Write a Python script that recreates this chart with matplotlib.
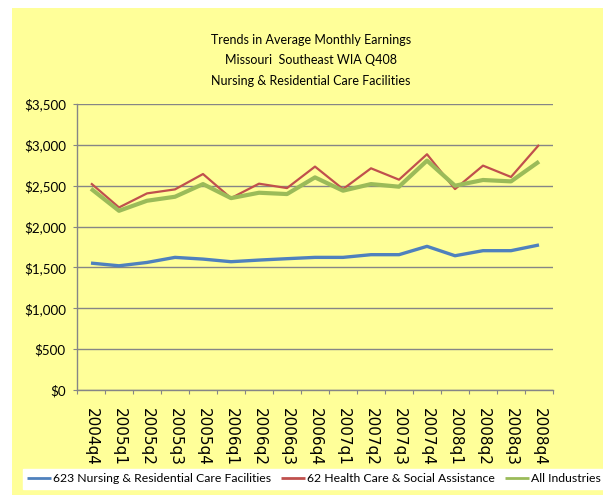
import matplotlib
matplotlib.use("Agg")
import matplotlib.pyplot as plt
from matplotlib.patches import Rectangle
from matplotlib.ticker import FixedLocator, FuncFormatter

categories = ["2004q4", "2005q1", "2005q2", "2005q3", "2005q4", "2006q1", "2006q2",
              "2006q3", "2006q4", "2007q1", "2007q2", "2007q3", "2007q4", "2008q1",
              "2008q2", "2008q3", "2008q4"]
nursing = [1553, 1520, 1561, 1623, 1602, 1570, 1590, 1607, 1623, 1623, 1656, 1656,
           1758, 1643, 1705, 1705, 1775]
health = [2529, 2234, 2406, 2455, 2643, 2348, 2525, 2471, 2734, 2459, 2713, 2574,
          2885, 2459, 2746, 2607, 3000]
all_ind = [2463, 2193, 2316, 2365, 2520, 2348, 2414, 2398, 2602, 2439, 2520, 2488,
           2807, 2500, 2570, 2553, 2795]
series_names = ["623 Nursing & Residential Care Facilities",
                "62 Health Care & Social Assistance", "All Industries"]
title_lines = ["Trends in Average Monthly Earnings", "Missouri  Southeast WIA Q408",
               "Nursing & Residential Care Facilities"]
yticks = [0, 500, 1000, 1500, 2000, 2500, 3000, 3500]

FONT = ["Lato", "DejaVu Sans"]
W, H = 610, 495
fig = plt.figure(figsize=(W / 100, H / 100), dpi=100, facecolor="white")

# yellow chart area background
fig.patches.append(Rectangle((12 / W, 0), (603 - 12) / W, (495 - 8) / H,
                             transform=fig.transFigure, facecolor="#FFFF99",
                             edgecolor="none", zorder=-10))

ax = fig.add_axes([77 / W, 1 - 390 / H, 476 / W, 286 / H])
ax.set_facecolor("none")
x = list(range(len(categories)))
colors = ["#4F81BD", "#C0504D", "#9BBB59"]
widths = [2.4, 1.6, 3.0]
lines = []
for vals, c, lw, name in zip([nursing, health, all_ind], colors, widths, series_names):
    ln, = ax.plot(x, vals, color=c, lw=lw, label=name, solid_capstyle="butt")
    lines.append(ln)

ax.set_xlim(-0.5, len(categories) - 0.5)
ax.set_ylim(0, 3500)
ax.set_yticks(yticks)
ax.yaxis.set_major_formatter(FuncFormatter(lambda v, p: "${:,.0f}".format(v)))
ax.grid(axis="y", color="#868686", lw=1.0)
ax.set_axisbelow(True)
for s in ["top", "right"]:
    ax.spines[s].set_visible(False)
for s in ["left", "bottom"]:
    ax.spines[s].set_color("#868686")
    ax.spines[s].set_linewidth(1.0)

ax.xaxis.set_major_locator(FixedLocator([i - 0.5 for i in range(len(categories) + 1)]))
ax.xaxis.set_minor_locator(FixedLocator(x))
ax.set_xticklabels([])
ax.set_xticklabels(categories, minor=True)
ax.tick_params(axis="x", which="major", length=3, color="#868686", direction="out")
ax.tick_params(axis="x", which="minor", length=0, pad=13)
for lbl in ax.get_xticklabels(minor=True):
    lbl.set_rotation(270)
    lbl.set_fontsize(11)
    lbl.set_va("top")
    lbl.set_ha("center")
ax.tick_params(axis="y", length=3, color="#868686", pad=5)
for lbl in ax.get_yticklabels():
    lbl.set_family(FONT)
    lbl.set_fontsize(9.6)

for i, t in enumerate(title_lines):
    fig.text(311 / W, 1 - (40 + i * 20.5) / H, t, ha="center", va="center",
             fontsize=9, family=FONT)

leg = fig.legend(handles=lines, loc="center", bbox_to_anchor=(314 / W, 1 - 479 / H),
                 ncol=3, frameon=True, fancybox=False, handlelength=2.0,
                 handletextpad=0.15, columnspacing=0.8, borderpad=0.35,
                 prop={"family": FONT, "size": 8.8})
leg.get_frame().set_facecolor("white")
leg.get_frame().set_edgecolor("white")
leg.get_frame().set_alpha(1)
for hl in leg.get_lines():
    hl.set_linewidth(2.0)

fig.savefig("out.png", dpi=100, facecolor="white")
